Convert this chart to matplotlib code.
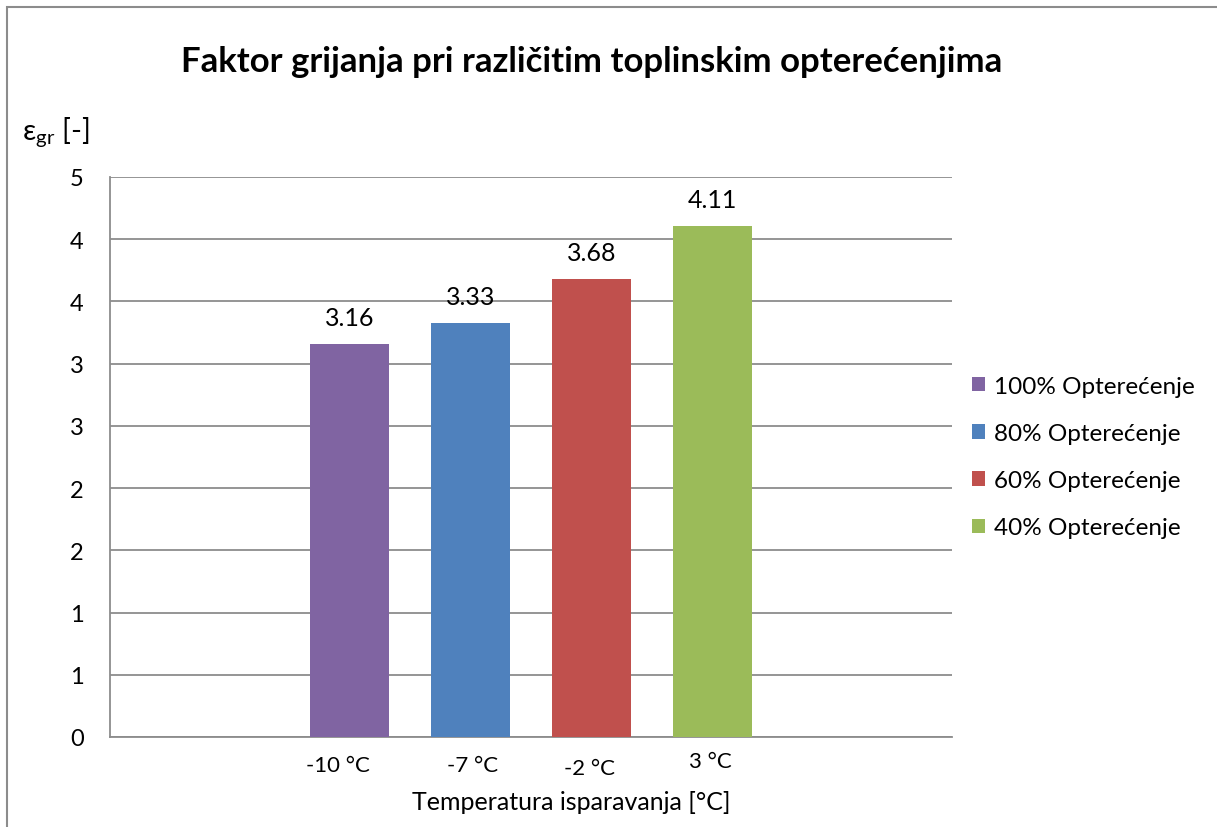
import matplotlib
matplotlib.use("Agg")
import matplotlib.pyplot as plt
from matplotlib.patches import Rectangle
from matplotlib.transforms import ScaledTranslation

plt.rcParams['font.family'] = ['Lato', 'DejaVu Sans']
plt.rcParams['mathtext.fontset'] = 'custom'
plt.rcParams['mathtext.rm'] = 'Lato'
plt.rcParams['mathtext.it'] = 'Lato'

categories = ["-10 °C", "-7 °C", "-2 °C", "3 °C"]
series = ["100% Opterećenje", "80% Opterećenje", "60% Opterećenje", "40% Opterećenje"]
values = [3.16, 3.33, 3.68, 4.11]
colors = ["#8064A2", "#4F81BD", "#C0504D", "#9BBB59"]
ytick_values = [0, 0.5, 1, 1.5, 2, 2.5, 3, 3.5, 4, 4.5]
ytick_labels = ["0", "1", "1", "2", "2", "3", "3", "4", "4", "5"]

W, H = 1217, 828
fig = plt.figure(figsize=(W / 100, H / 100), dpi=100)

# outer chart border (cropped at right/bottom)
fig.patches.append(Rectangle((7 / W, -0.05), 1.1, 1 - 8 / H + 0.05, transform=fig.transFigure,
                             fill=False, edgecolor="#8c8c8c", linewidth=1.5))

ax = fig.add_axes([110 / W, 1 - 738 / H, (952 - 110) / W, (738 - 178) / H])

x = list(range(len(categories)))
for i, (v, c, s) in enumerate(zip(values, colors, series)):
    ax.bar(x[i], v, width=0.66, color=c, label=s, zorder=3)
    ax.text(x[i], v + 0.12, f"{v:.2f}", ha="center", va="bottom", fontsize=18, color="black")

ax.set_xlim(-1.98, 4.98)
ax.set_ylim(0, 4.5)
ax.set_yticks(ytick_values)
ax.set_yticklabels(ytick_labels, fontsize=17)
ax.set_xticks(x)
ax.set_xticklabels(categories, fontsize=16)
ax.tick_params(axis="y", length=0, pad=19)
ax.tick_params(axis="x", length=0, pad=13)
# small manual offsets of the category labels (as in the original)
offsets_px = [(-12, 0), (2, 0), (-2, -3), (-2, 4)]
for lbl, (dx, dy) in zip(ax.get_xticklabels(), offsets_px):
    lbl.set_transform(lbl.get_transform() + ScaledTranslation(dx / 100, dy / 100, fig.dpi_scale_trans))
ax.grid(axis="y", color="#8c8c8c", linewidth=1.3, zorder=0)
for side in ["top", "right"]:
    ax.spines[side].set_visible(False)
ax.spines["left"].set_color("#8c8c8c")
ax.spines["bottom"].set_color("#8c8c8c")
ax.spines["left"].set_linewidth(1.3)
ax.spines["bottom"].set_linewidth(1.3)

ax.set_xlabel("Temperatura isparavanja [°C]", fontsize=18)
ax.xaxis.set_label_coords((571 - 110) / (952 - 110), -(803 - 738) / (738 - 178))
ax.xaxis.label.set_va("center")

fig.text(592 / W, 1 - 62 / H, "Faktor grijanja pri različitim toplinskim opterećenjima",
         ha="center", va="center", fontsize=25, fontweight="bold")
fig.text(22 / W, 1 - 132 / H, r"ε$_{\mathrm{gr}}$ [-]", ha="left", va="center", fontsize=21)

leg = fig.legend(loc="upper left", bbox_to_anchor=(962 / W, 1 - 367 / H), frameon=False,
                 fontsize=17.5, handlelength=0.55, handleheight=0.55, handletextpad=0.35,
                 labelspacing=1.08, borderaxespad=0)

fig.savefig("out.png", dpi=100)
